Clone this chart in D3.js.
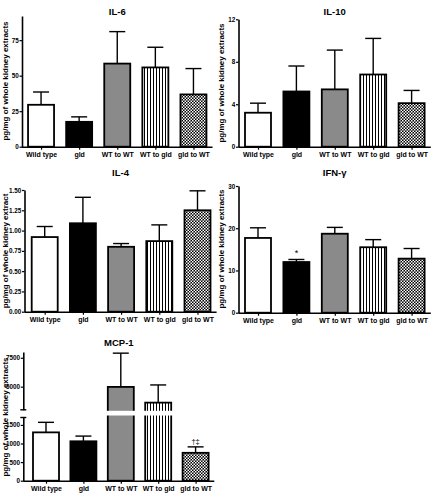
<!DOCTYPE html>
<html><head><meta charset="utf-8">
<script src="https://cdn.jsdelivr.net/npm/d3@7"></script>
<style>
html,body{margin:0;padding:0;background:#fff;}
svg{display:block;font-family:"Liberation Sans",Arial,sans-serif;font-weight:bold;}
</style></head>
<body>
<script>
const categories = ["Wild type","gld","WT to WT","WT to gld","gld to WT"];

const il6Mean  = [29.5, 17.5, 58.5, 55.8, 36.8];
const il6Sem   = [9.0, 3.5, 22.5, 14.2, 18.2];
const il6Ticks = [0, 25, 50, 75];

const il10Mean  = [3.2, 5.2, 5.4, 6.8, 4.1];
const il10Sem   = [0.9, 2.4, 3.7, 3.4, 1.2];
const il10Ticks = [0, 4, 8, 12];

const il4Mean  = [0.92, 1.09, 0.80, 0.87, 1.25];
const il4Sem   = [0.13, 0.32, 0.04, 0.20, 0.24];
const il4Ticks = [0, 0.25, 0.5, 0.75, 1.0, 1.25, 1.5];

const ifnMean  = [17.7, 12.0, 18.7, 15.5, 12.8];
const ifnSem   = [2.4, 0.6, 1.5, 1.8, 2.4];
const ifnTicks = [0, 10, 20, 30];
const ifnMarks = ["", "*", "", "", ""];

const mcpMean  = [1300, 1060, 4980, 3620, 750];
const mcpSem   = [270, 140, 2920, 1530, 160];
const mcpLowTicks  = [0, 500, 1000, 1500];
const mcpHighTicks = [5000, 7500];
const mcpMarks = ["", "", "", "", "\u2020\u2021"];

const fills = ["#ffffff", "#000000", "#8a8a8a", "url(#vstripe)", "url(#checker)"];

const W = 432, H = 493;
const svg = d3.select("body").append("svg").attr("width", W).attr("height", H);

const defs = svg.append("defs");
const vs = defs.append("pattern").attr("id","vstripe").attr("patternUnits","userSpaceOnUse")
  .attr("width",3).attr("height",3);
vs.append("rect").attr("width",3).attr("height",3).attr("fill","#fff");
vs.append("rect").attr("x",0).attr("width",1).attr("height",3).attr("fill","#000");
const ck = defs.append("pattern").attr("id","checker").attr("patternUnits","userSpaceOnUse")
  .attr("width",3).attr("height",3);
ck.append("rect").attr("width",3).attr("height",3).attr("fill","#000");
ck.append("rect").attr("x",0).attr("y",0).attr("width",1.5).attr("height",1.5).attr("fill","#fff");
ck.append("rect").attr("x",1.5).attr("y",1.5).attr("width",1.5).attr("height",1.5).attr("fill","#fff");

const BAR_W = 26, CAP_W = 16;

function drawPanel(cfg) {
  const g = svg.append("g");
  const x = d3.scalePoint().domain(categories).range(cfg.xRange).padding(0.5);
  const yFn = cfg.yFn;

  categories.forEach((c, i) => {
    const m = cfg.mean[i], top = m + cfg.sem[i];
    const cx = x(c);
    g.append("line").attr("x1", cx).attr("x2", cx).attr("y1", yFn(m)).attr("y2", yFn(top))
      .attr("stroke","#000").attr("stroke-width",1.4);
    g.append("line").attr("x1", cx - CAP_W/2).attr("x2", cx + CAP_W/2).attr("y1", yFn(top)).attr("y2", yFn(top))
      .attr("stroke","#000").attr("stroke-width",1.4);
    g.append("rect").attr("x", cx - BAR_W/2).attr("y", yFn(m)).attr("width", BAR_W)
      .attr("height", cfg.base - yFn(m)).attr("fill", fills[i]).attr("stroke","#000").attr("stroke-width",1.8);
    if (cfg.gap && m > cfg.gap[0]) {
      g.append("rect").attr("x", cx - BAR_W/2 - 2).attr("y", cfg.gapY[0] + 1)
        .attr("width", BAR_W + 4).attr("height", cfg.gapY[1] - cfg.gapY[0] - 3).attr("fill","#fff");
    }
    if (cfg.marks && cfg.marks[i]) {
      g.append("text").attr("x", cx).attr("y", yFn(top) - 3).attr("text-anchor","middle")
        .attr("font-size", cfg.marks[i] === "*" ? 9 : 7.5).attr("font-weight","normal").text(cfg.marks[i]);
    }
  });

  const xAxis = d3.axisBottom(x).tickSize(3).tickSizeOuter(0).tickPadding(2);
  const xg = g.append("g").attr("transform", `translate(0,${cfg.base})`).call(xAxis);
  xg.select(".domain").attr("d", `M${cfg.axisX},0.5H${cfg.xRange[1]}`).attr("stroke-width",1.6);
  xg.selectAll(".tick line").attr("stroke-width",1.2);
  xg.selectAll("text").attr("font-size",7).attr("font-family",null).attr("font-weight","bold").attr("fill","#000");

  cfg.yAxes.forEach(a => {
    const ax = d3.axisLeft(a.scale).tickValues(a.ticks).tickFormat(cfg.fmt).tickSize(2.5).tickSizeOuter(0).tickPadding(0.8);
    const yg = g.append("g").attr("transform", `translate(${cfg.axisX},0)`).call(ax);
    yg.select(".domain").attr("stroke-width",1.6);
    yg.selectAll(".tick line").attr("stroke-width",1.2);
    yg.selectAll("text").attr("font-size",6.3).attr("font-family",null).attr("font-weight","bold").attr("fill","#000");
    if (a.caps) {
      a.caps.forEach(yv => {
        g.append("line").attr("x1", cfg.axisX - 3).attr("x2", cfg.axisX + 3)
          .attr("y1", a.scale(yv)).attr("y2", a.scale(yv)).attr("stroke","#000").attr("stroke-width",1.4);
      });
    }
  });

  g.append("text").attr("x", (cfg.axisX + cfg.xRange[1]) / 2).attr("y", cfg.titleY)
    .attr("text-anchor","middle").attr("font-size",9.5).text(cfg.title);
  g.append("text").attr("transform", `translate(${cfg.labelX},${cfg.labelY}) rotate(-90)`)
    .attr("text-anchor","middle").attr("font-size",8).text(cfg.ylabel);
}

{
  const y = d3.scaleLinear().domain([0, 92]).range([146.7, 16]);
  drawPanel({title:"IL-6", ylabel:"pg/mg of whole kidney extracts", mean:il6Mean, sem:il6Sem,
    yFn:y, base:146.7, axisX:22, xRange:[22, 212.5], titleY:15, labelX:8, labelY:81,
    yAxes:[{scale:y, ticks:il6Ticks}], fmt:d3.format("d")});
}
{
  const y = d3.scaleLinear().domain([0, 12]).range([146.7, 19.3]);
  drawPanel({title:"IL-10", ylabel:"pg/mg of whole kidney extracts", mean:il10Mean, sem:il10Sem,
    yFn:y, base:146.7, axisX:238.5, xRange:[238.8, 430.8], titleY:15, labelX:224, labelY:83,
    yAxes:[{scale:y, ticks:il10Ticks}], fmt:d3.format("d")});
}
{
  const y = d3.scaleLinear().domain([0, 1.5]).range([311.7, 190]);
  drawPanel({title:"IL-4", ylabel:"pg/mg of whole kidney extract", mean:il4Mean, sem:il4Sem,
    yFn:y, base:311.7, axisX:24.5, xRange:[25.6, 216.6], titleY:175.5, labelX:8, labelY:251,
    yAxes:[{scale:y, ticks:il4Ticks}], fmt:d3.format(".2f")});
}
{
  const y = d3.scaleLinear().domain([0, 30]).range([312.7, 186]);
  drawPanel({title:"IFN-\u03b3", ylabel:"pg/mg of whole kidney extracts", mean:ifnMean, sem:ifnSem,
    yFn:y, base:312.7, axisX:238.5, xRange:[238.8, 430.8], titleY:175.5, labelX:224, labelY:249,
    yAxes:[{scale:y, ticks:ifnTicks}], fmt:d3.format("d"), marks:ifnMarks});
}
{
  const lowMax = 1700, highMin = 3000;
  const yLow = d3.scaleLinear().domain([0, lowMax]).range([480.7, 417.5]);
  const yHigh = d3.scaleLinear().domain([highMin, 8000]).range([409.8, 352]);
  const yFn = v => v <= lowMax ? yLow(v) : (v >= highMin ? yHigh(v) : yLow(lowMax));
  drawPanel({title:"MCP-1", ylabel:"pg/mg of whole kidney extracts", mean:mcpMean, sem:mcpSem,
    yFn:yFn, base:480.7, axisX:23.3, xRange:[27.3, 214.3], titleY:346, labelX:8, labelY:417,
    gap:[lowMax, highMin], gapY:[yHigh(highMin), yLow(lowMax)], marks:mcpMarks,
    yAxes:[{scale:yLow, ticks:mcpLowTicks, caps:[lowMax]}, {scale:yHigh, ticks:mcpHighTicks, caps:[highMin]}],
    fmt:d3.format("d")});
}
</script>
</body></html>
